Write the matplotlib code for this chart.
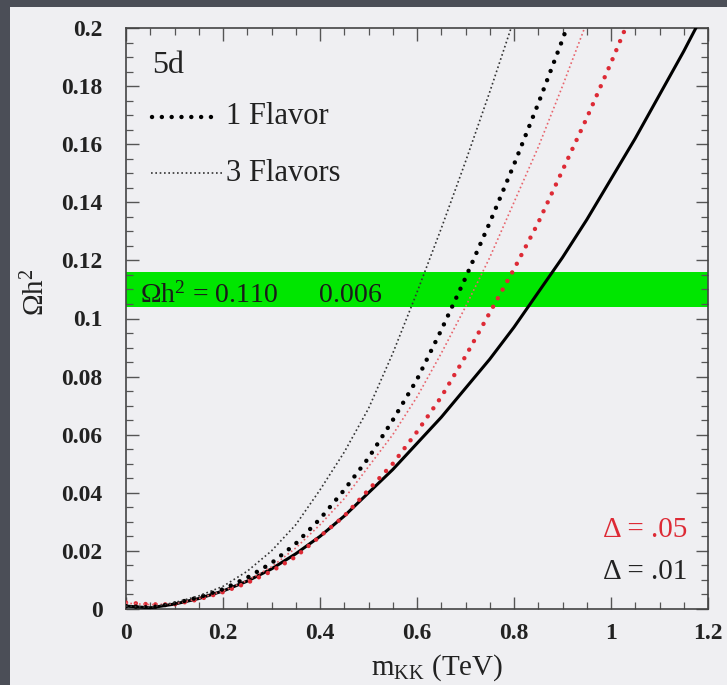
import numpy as np
import matplotlib
matplotlib.use("Agg")
import matplotlib.pyplot as plt
from matplotlib.ticker import MultipleLocator

plt.rcParams['font.family'] = ['Liberation Serif', 'DejaVu Serif']
plt.rcParams['mathtext.fontset'] = 'custom'
plt.rcParams['mathtext.rm'] = 'Liberation Serif'
plt.rcParams['mathtext.it'] = 'Liberation Serif:italic'

# m_KK (TeV) grid the values were read at
m_kk = [0.0, 0.05, 0.1, 0.15, 0.2, 0.25, 0.3, 0.35, 0.4, 0.45, 0.5, 0.55, 0.6,
        0.65, 0.7, 0.75, 0.8, 0.85, 0.9, 0.95, 1.0, 1.05, 1.1, 1.15, 1.2]

# relic density
solid_d01 = [0.001, 0.0004, 0.0017, 0.0036, 0.0062, 0.0096, 0.0138, 0.019, 0.025, 0.032, 0.040,
             0.048, 0.057, 0.066, 0.076, 0.086, 0.097, 0.109, 0.121, 0.134, 0.148, 0.162, 0.177,
             0.192, 0.208]
one_flavor_d01 = [0.001, 0.0005, 0.0019, 0.0040, 0.0068, 0.0108, 0.0158, 0.0225, 0.031, 0.041,
                  0.052, 0.065, 0.079, 0.096, 0.114, 0.133, 0.153, 0.174, 0.196, 0.219]
three_flavor_d01 = [0.001, 0.0006, 0.0022, 0.0045, 0.0078, 0.013, 0.020, 0.029, 0.041, 0.054,
                    0.069, 0.088, 0.109, 0.131, 0.154, 0.178, 0.203]
one_flavor_d05 = [0.0022, 0.0016, 0.0016, 0.0033, 0.0058, 0.009, 0.013, 0.018, 0.025, 0.032,
                  0.041, 0.050, 0.061, 0.073, 0.087, 0.102, 0.117, 0.133, 0.151, 0.169, 0.188,
                  0.208]
three_flavor_d05 = [0.002, 0.0015, 0.0018, 0.0036, 0.0062, 0.0098, 0.0145, 0.021, 0.029, 0.038,
                    0.049, 0.060, 0.073, 0.088, 0.104, 0.121, 0.140, 0.159, 0.180, 0.202]

band_center = 0.110
band_err = 0.006

bg_dark = '#4b4e57'
panel = '#efeff2'
red_dark = '#dd2a35'
red_light = '#e8646c'

fig = plt.figure(figsize=(7.27, 6.85), dpi=100, facecolor=bg_dark)
bg = plt.Rectangle((10 / 727, 0), 1, 1 - 7 / 685, transform=fig.transFigure,
                   facecolor=panel, edgecolor='none', zorder=-10)
fig.add_artist(bg)
ax = fig.add_axes([126 / 727, 1 - 609 / 685, 582 / 727, 581 / 685])
ax.set_facecolor(panel)

# WMAP band
ax.axhspan(band_center - band_err, band_center + band_err, color='#00e600', lw=0, zorder=1)
ax.text(0.024, 0.540, 'Ωh$^2$ = 0.110      0.006', transform=ax.transAxes,
        fontsize=20, va='center', ha='left', color='#1a1a1a', zorder=2)

def n(vals):
    return m_kk[:len(vals)], vals

ax.plot(*n(solid_d01), color='black', lw=2.2, zorder=3)
ax.plot(*n(one_flavor_d05), color=red_dark, lw=3.2, linestyle=(0, (0.01, 2.2)),
        dash_capstyle='round', zorder=3)
ax.plot(*n(three_flavor_d05), color=red_light, lw=1.2, linestyle=(0, (1.0, 1.6)), zorder=3)
ax.plot(*n(one_flavor_d01), color='black', lw=3.2, linestyle=(0, (0.01, 2.2)),
        dash_capstyle='round', zorder=3)
ax.plot(*n(three_flavor_d01), color='#333333', lw=1.2, linestyle=(0, (1.0, 1.6)), zorder=3)

ax.set_xlim(0, 1.2)
ax.set_ylim(0, 0.2)
ax.xaxis.set_minor_locator(MultipleLocator(0.05))
ax.yaxis.set_minor_locator(MultipleLocator(0.005))
ax.set_xticks([0, 0.2, 0.4, 0.6, 0.8, 1.0, 1.2])
ax.set_xticklabels(['0', '0.2', '0.4', '0.6', '0.8', '1', '1.2'])
ax.set_yticks([0, 0.02, 0.04, 0.06, 0.08, 0.1, 0.12, 0.14, 0.16, 0.18, 0.2])
ax.set_yticklabels(['0', '0.02', '0.04', '0.06', '0.08', '0.1', '0.12', '0.14', '0.16', '0.18', '0.2'])
ax.tick_params(which='both', direction='in', top=True, right=True, color='#555555')
ax.tick_params(which='major', length=9, width=1.0)
ax.tick_params(which='minor', length=5, width=0.9)
ax.tick_params(axis='x', which='major', pad=10, labelsize=17)
ax.tick_params(axis='y', which='major', pad=17, labelsize=17)
for lab in ax.get_xticklabels() + ax.get_yticklabels():
    lab.set_fontweight('bold')
    lab.set_color('#222222')
for sp in ax.spines.values():
    sp.set_linewidth(1.2)
    sp.set_color('#444444')

ax.set_xlabel('m$_{\\rm KK}$ (TeV)', fontsize=21, color='#222222')
ax.xaxis.set_label_coords(0.534, -0.075)
ax.set_ylabel('Ωh$^2$', fontsize=21, color='#222222')
ax.yaxis.set_label_coords(-0.13, 0.545)

# labels inside the frame
ax.text(0.045, 0.935, '5d', transform=ax.transAxes, fontsize=23, va='center', color='#222222')
ax.plot([0.045, 0.158], [0.847, 0.847], transform=ax.transAxes, color='black', lw=3.2,
        linestyle=(0, (0.01, 2.2)), dash_capstyle='round')
ax.text(0.172, 0.847, '1 Flavor', transform=ax.transAxes, fontsize=22, va='center', color='#222222')
ax.plot([0.043, 0.165], [0.750, 0.750], transform=ax.transAxes, color='#333333', lw=1.2,
        linestyle=(0, (1.0, 1.6)))
ax.text(0.172, 0.750, '3 Flavors', transform=ax.transAxes, fontsize=22, va='center', color='#222222')
ax.text(0.964, 0.136, 'Δ = .05', transform=ax.transAxes, fontsize=21, va='center', ha='right',
        color=red_dark)
ax.text(0.964, 0.064, 'Δ = .01', transform=ax.transAxes, fontsize=21, va='center', ha='right',
        color='#222222')

fig.savefig('out.png', dpi=100, facecolor=fig.get_facecolor())
